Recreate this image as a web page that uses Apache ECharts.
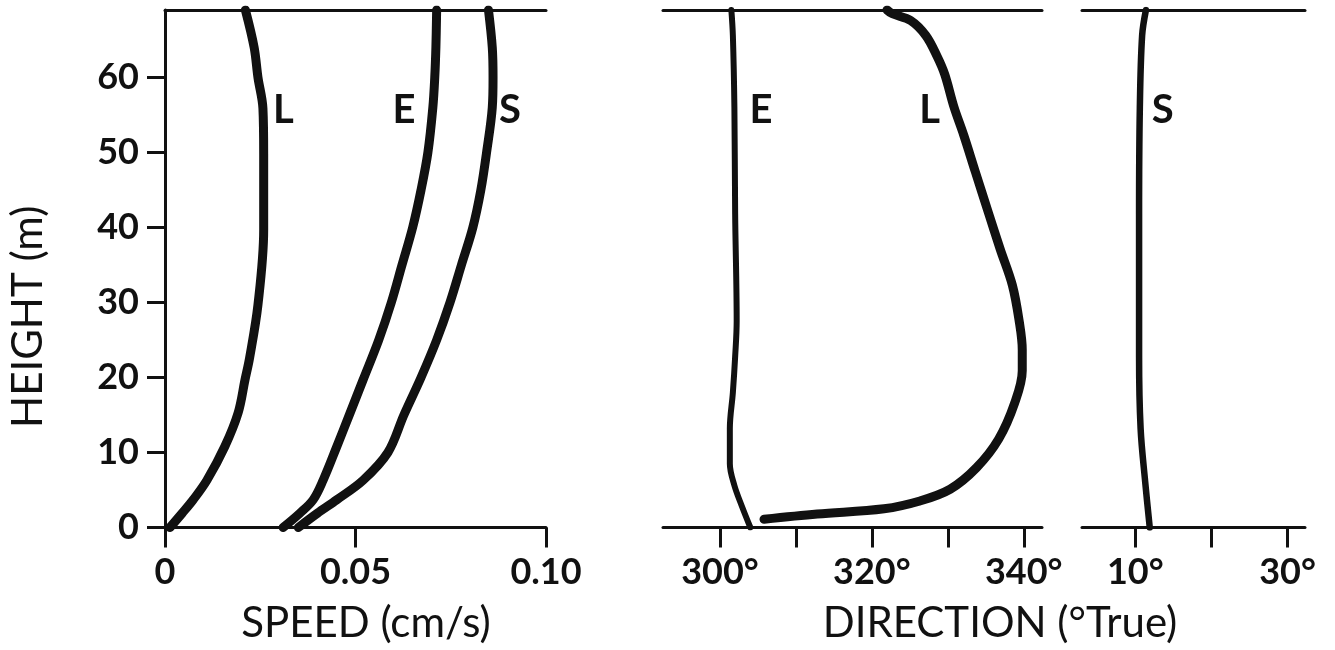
<!DOCTYPE html>
<html><head><meta charset="utf-8">
<script src="https://cdn.jsdelivr.net/npm/echarts@6/dist/echarts.min.js"></script>
<style>html,body{margin:0;background:#fff}#c{width:1335px;height:650px}</style>
</head><body><div id="c"></div><script>
// Near-bottom current profiles: height (m) against speed and direction for runs L, E, S

// Speed panel
const hSpeedL = [0, 1.9, 3.7, 6.3, 10.8, 15.3, 19.7, 22.6, 29.7, 39.7, 49.8, 55.9, 60, 64, 69];
const speedL  = [0.0013, 0.0045, 0.0074, 0.0110, 0.0157, 0.0192, 0.0210, 0.0222, 0.0244, 0.0259, 0.0259, 0.0257, 0.0244, 0.0234, 0.0211];
const hSpeedE = [0, 1.9, 3.7, 6.3, 10.8, 15.3, 19.7, 25, 30, 35, 40, 45, 50, 56, 60, 64, 69];
const speedE  = [0.031, 0.0354, 0.0389, 0.0415, 0.0451, 0.0486, 0.0520, 0.0561, 0.0594, 0.0622, 0.0650, 0.0672, 0.0690, 0.0703, 0.0708, 0.0711, 0.0713];
const hSpeedS = [0, 1.9, 3.7, 6.3, 10, 15, 20, 25, 30, 35, 40, 45, 50, 56, 60, 64, 69];
const speedS  = [0.035, 0.040, 0.0451, 0.0520, 0.0585, 0.0627, 0.0672, 0.0713, 0.0748, 0.0778, 0.0808, 0.0829, 0.0844, 0.0859, 0.0861, 0.0859, 0.0849];

// Direction panel (300-340 degrees)
const hDirE = [0, 2.8, 5.6, 8.5, 13.2, 18, 22.8, 27.5, 41.8, 56, 65.6, 69];
const dirE  = [304.0, 302.9, 301.9, 301.3, 301.3, 301.7, 302.0, 302.2, 302.0, 301.9, 301.7, 301.5];
const hDirL = [1.1, 1.8, 2.5, 3.5, 5.1, 8, 11.8, 16.6, 20.9, 23.7, 27.5, 32.3, 37.1, 41.8, 47.5, 52.3, 56.1, 60.4, 62.8, 65.6, 67.6, 68.5, 69];
const dirL  = [305.8, 312.8, 321.6, 326.2, 330.3, 333.8, 336.7, 338.8, 339.8, 339.8, 339.4, 338.5, 336.9, 335.4, 333.6, 332.1, 330.8, 329.6, 328.6, 327.1, 325.1, 322.7, 322.0];

// Direction panel (10-30 degrees)
const hDirS = [0, 6.1, 13.2, 22.8, 41.8, 56, 65.6, 69];
const dirS  = [11.9, 11.3, 10.7, 10.5, 10.5, 10.6, 10.9, 11.4];

// Axis ticks and labels
const heightTicks = [0, 10, 20, 30, 40, 50, 60];
const speedTicks = [0, 0.05, 0.10];
const speedTickLabels = ['0', '0.05', '0.10'];
const dirTicksA = [300, 310, 320, 330, 340];
const dirLabelsA = [300, 320, 340];
const dirTicksB = [10, 20, 30];
const dirLabelsB = [10, 30];

const INK = '#111';
const FONT = 'Lato';
const LABEL_H = 55.7;

const pairs = (xs, hs) => xs.map((x, i) => [x, hs[i]]);
function xAt(xs, hs, h) {
  for (let i = 1; i < hs.length; i++) {
    if (h <= hs[i]) {
      const t = (h - hs[i - 1]) / (hs[i] - hs[i - 1]);
      return xs[i - 1] + t * (xs[i] - xs[i - 1]);
    }
  }
  return xs[xs.length - 1];
}

function profile(name, xs, hs, grid, width, side, dist) {
  return {
    type: 'line', name, xAxisIndex: grid, yAxisIndex: grid,
    data: pairs(xs, hs), smooth: 0.35, symbol: 'none',
    lineStyle: { color: INK, width, cap: 'round', join: 'round' },
    markPoint: {
      symbol: 'circle', symbolSize: 0, silent: true,
      data: [{ coord: [xAt(xs, hs, LABEL_H), LABEL_H] }],
      label: { show: true, formatter: name, position: side, distance: dist,
        color: INK, fontFamily: FONT, fontWeight: 'bold', fontSize: 40 }
    },
    animation: false
  };
}

const tickLabelStyle = { color: INK, fontFamily: FONT, fontWeight: 'bold', fontSize: 36 };
const axisLine = { show: true, lineStyle: { color: INK, width: 3 } };
const axisTick = (vals) => ({ show: true, inside: false, length: 20, customValues: vals, lineStyle: { color: INK, width: 3 } });

function bottomAxis(grid, min, max, ticks, labels, fmt) {
  return {
    type: 'value', gridIndex: grid, position: 'bottom', min, max,
    axisLine, axisTick: axisTick(ticks), splitLine: { show: false },
    axisLabel: Object.assign({ customValues: labels, margin: 27, formatter: fmt }, tickLabelStyle)
  };
}
function topAxis(grid, min, max) {
  return {
    type: 'value', gridIndex: grid, position: 'top', min, max,
    axisLine, axisTick: { show: false }, axisLabel: { show: false }, splitLine: { show: false }
  };
}

const grids = [
  { left: 165, top: 10, width: 381, height: 517.5 },
  { left: 663, top: 10, width: 379, height: 517.5 },
  { left: 1082, top: 10, width: 223, height: 517.5 }
];

const titleStyle = { color: INK, fontFamily: FONT, fontWeight: 'normal', fontSize: 42 };

const option = {
  backgroundColor: '#fff',
  animation: false,
  grid: grids,
  title: [
    { text: 'SPEED (cm/s)', left: 366, top: 602, padding: 0, textAlign: 'center', textStyle: titleStyle },
    { text: 'DIRECTION (°True)', left: 1000, top: 602, padding: 0, textAlign: 'center', textStyle: titleStyle }
  ],
  xAxis: [
    bottomAxis(0, 0, 0.10, speedTicks, speedTicks, (v) => speedTickLabels[speedTicks.indexOf(v)] ?? ''),
    bottomAxis(1, 292.5, 342.4, dirTicksA, dirLabelsA, (v) => v + '°'),
    bottomAxis(2, 3, 32.3, dirTicksB, dirLabelsB, (v) => v + '°'),
    topAxis(0, 0, 0.10),
    topAxis(1, 292.5, 342.4),
    topAxis(2, 3, 32.3)
  ],
  yAxis: [
    {
      type: 'value', gridIndex: 0, min: 0, max: 69,
      name: 'HEIGHT (m)', nameLocation: 'middle', nameGap: 116, nameRotate: 90,
      nameTextStyle: { color: INK, fontFamily: FONT, fontWeight: 'normal', fontSize: 42, padding: [0, 96, 0, 0] },
      axisLine, splitLine: { show: false },
      axisTick: { show: true, length: 18, customValues: heightTicks, lineStyle: { color: INK, width: 3 } },
      axisLabel: Object.assign({ customValues: heightTicks, margin: 26 }, tickLabelStyle)
    },
    { type: 'value', gridIndex: 1, min: 0, max: 69, show: false },
    { type: 'value', gridIndex: 2, min: 0, max: 69, show: false }
  ],
  series: [
    profile('L', speedL, hSpeedL, 0, 9, 'right', 10),
    profile('E', speedE, hSpeedE, 0, 9, 'left', 17),
    profile('S', speedS, hSpeedS, 0, 9, 'right', 7),
    profile('E', dirE, hDirE, 1, 6, 'right', 15),
    profile('L', dirL, hDirL, 1, 9, 'left', 15),
    profile('S', dirS, hDirS, 2, 6.5, 'right', 12)
  ]
};

echarts.init(document.getElementById('c'), null, { renderer: 'canvas' }).setOption(option);
</script></body></html>
